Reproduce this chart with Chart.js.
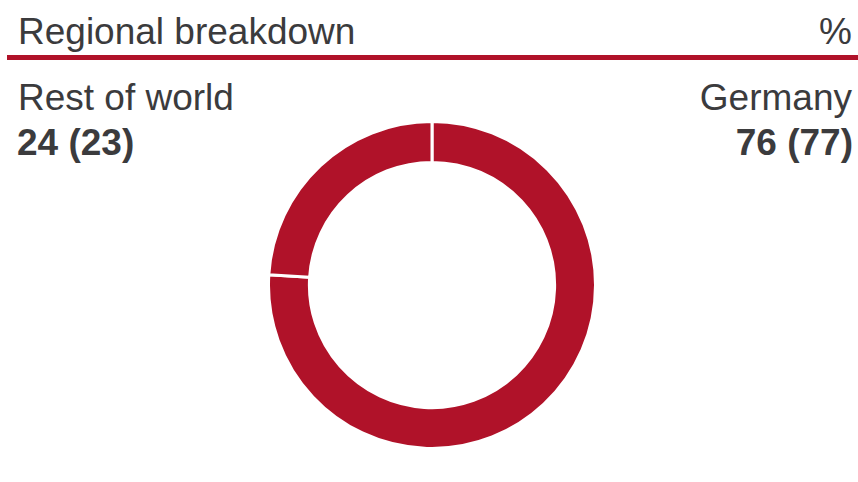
<!DOCTYPE html>
<html>
<head>
  <meta charset="utf-8">
  <title>Regional breakdown</title>
  <script src="https://cdn.jsdelivr.net/npm/chart.js@4/dist/chart.umd.min.js"></script>
  <style>
    html, body { margin: 0; padding: 0; background: #fff; }
    body { width: 858px; height: 482px; position: relative; overflow: hidden;
           font-family: "Liberation Sans", Arial, sans-serif; color: #3b3b3d; }
    .txt { position: absolute; font-size: 37px; line-height: 37px; white-space: nowrap; }
    .bold { font-weight: bold; }
    .right { text-align: right; }
    #rule { position: absolute; left: 7px; right: 0; top: 55px; height: 5px; background: #b01229; }
    #wrap { position: absolute; left: 267px; top: 120px; width: 330px; height: 330px; }
  </style>
</head>
<body>
  <div class="txt" id="title" style="left:18px; top:13px;">Regional breakdown</div>
  <div class="txt right" id="unit" style="right:6px; top:13px;">%</div>
  <div id="rule"></div>

  <div class="txt" style="left:18px; top:79px;" id="lblLeft"></div>
  <div class="txt bold" style="left:17px; top:124px;" id="valLeft"></div>
  <div class="txt right" style="right:6px; top:79px;" id="lblRight"></div>
  <div class="txt bold right" style="right:5px; top:124px;" id="valRight"></div>

  <div id="wrap"><canvas id="canvas"></canvas></div>

<script>
// regions, current share and (previous year) in %
var regions = ['Germany', 'Rest of world'];
var shares = [76, 24];
var prevShares = [77, 23];

var red = '#b01229';

document.getElementById('lblRight').textContent = regions[0];
document.getElementById('valRight').textContent = shares[0] + ' (' + prevShares[0] + ')';
document.getElementById('lblLeft').textContent = regions[1];
document.getElementById('valLeft').textContent = shares[1] + ' (' + prevShares[1] + ')';

var config = {
  type: 'doughnut',
  data: {
    labels: regions,
    datasets: [{
      data: shares,
      backgroundColor: [red, red],
      borderColor: '#ffffff',
      borderWidth: 3
    }]
  },
  options: {
    responsive: true,
    maintainAspectRatio: false,
    animation: false,
    cutout: '75%',
    layout: { padding: 0 },
    plugins: {
      legend: { display: false },
      tooltip: { enabled: false },
      title: { display: false }
    }
  }
};

window.onload = function() {
  window.myDoughnut = new Chart(document.getElementById('canvas'), config);
};
</script>
</body>
</html>
